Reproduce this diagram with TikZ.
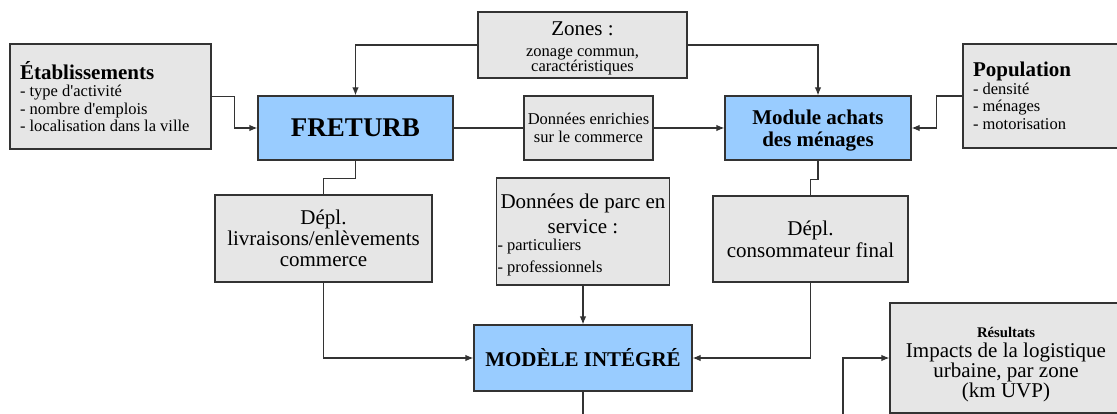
\documentclass[tikz,border=0pt]{standalone}
\usepackage{fontspec}
\setmainfont{Liberation Serif}
\usetikzlibrary{arrows.meta}
\definecolor{boxgray}{RGB}{230,230,230}
\definecolor{boxblue}{RGB}{153,204,255}
\definecolor{linegray}{RGB}{51,51,51}
\newcommand{\smalltxt}{\fontsize{16.5pt}{17.5pt}\selectfont}
\newcommand{\bigtxt}{\fontsize{21pt}{21.5pt}\selectfont}
\tikzset{font={\fontsize{21pt}{21.5pt}\selectfont},
	box/.style={draw=linegray, line width=1.2pt, fill=boxgray, inner sep=3pt, align=flush center},
	bluebox/.style={box, fill=boxblue},
	link/.style={draw=linegray, line width=1.2pt},
	arr/.style={link, -{Latex[length=8pt,width=6.5pt]}}}

\begin{document}
\begin{tikzpicture}[x=1pt,y=-1pt]
		\useasboundingbox (0,0) rectangle (1117,414);
		\clip (0,0) rectangle (1117,414);
		%Inputs
		\node[box, font=\smalltxt, text width=181pt, inner xsep=10pt, minimum height=105pt, align=flush left] (etab) at (110.5,96.5) {{\bigtxt\bfseries Établissements}\\ - type d\textquotesingle activité\\ - nombre d\textquotesingle emplois\\ - localisation dans la ville};
		\node[box, font=\smalltxt, text width=203pt, minimum width=209pt, minimum height=66pt] (zones) at (582.5,45) {\rule{0pt}{20pt}{\bigtxt Zones :}\\[3.5pt] zonage commun,\\[-2.5pt] caractéristiques};
		\node[box, font=\smalltxt, text width=139pt, inner xsep=10pt, minimum height=104pt, align=flush left] (popul) at (1042.5,96) {{\bigtxt\bfseries Population}\\ - densité\\ - ménages\\ - motorisation};
		%Modules
		\node[bluebox, font={\fontsize{27pt}{30pt}\selectfont\bfseries}, minimum width=195pt, minimum height=64pt] (freturb) at (355.5,128) {FRETURB};
		\node[box, font=\smalltxt, text width=123pt, minimum width=129pt, minimum height=64pt] (enrich) at (588.5,128) {Données enrichies\\ sur le commerce};
		\node[bluebox, font={\bigtxt\bfseries}, text width=180pt, minimum width=186pt, minimum height=64pt] (achats) at (818,128) {\rule{0pt}{20.5pt}Module achats\\[0.5pt] des ménages};
		%Trips
		\node[box, font={\fontsize{21pt}{21pt}\selectfont}, text width=211pt, minimum width=217pt, minimum height=87pt] (deplliv) at (323.5,238.5) {Dépl.\\ livraisons/enlèvements\\ commerce};
		\node[box, text width=171pt, inner xsep=1pt, minimum height=107pt, align=flush left] (parc) at (583,231.5) {{\centering\rule{0pt}{21.5pt}\mbox{Données de parc en}\\[3pt] service :\par}\smalltxt - particuliers\\ - professionnels};
		\node[box, text width=189pt, minimum width=195pt, minimum height=86pt] (deplcons) at (810.5,239) {Dépl.\\[0.5pt] consommateur final};
		%Model and results
		\node[bluebox, font={\bigtxt\bfseries}, minimum width=218pt, minimum height=66pt] (modele) at (583,358) {MODÈLE INTÉGRÉ};
		\node[box, font={\fontsize{21pt}{20pt}\selectfont}, text width=226pt, minimum width=232pt, minimum height=110pt] (result) at (1006,358) {{\fontsize{14.7pt}{20pt}\selectfont\bfseries\rule{0pt}{24pt}Résultats}\\ Impacts de la logistique\\ urbaine, par zone\\ (km UVP)};
		%Links
		\draw[arr] (zones.west) -| (freturb.north);
		\draw[arr] (zones.east) -| (achats.north);
		\draw[arr] (etab.east) -- ++(23,0) |- (freturb.west);
		\draw[link] (freturb.east) -- (enrich.west);
		\draw[arr] (enrich.east) -- (achats.west);
		\draw[arr] (popul.west) -- ++(-26,0) |- (achats.east);
		\draw[link] (freturb.south) -- ++(0,18) -| (deplliv.north);
		\draw[link] (achats.south) -- ++(0,19) -| (deplcons.north);
		\draw[arr] (deplliv.south) |- (modele.west);
		\draw[arr] (parc.south) -- (modele.north);
		\draw[arr] (deplcons.south) |- (modele.east);
		\coordinate (below) at (843,440);
		\draw[arr] (modele.south) |- (below) |- (result.west);
\end{tikzpicture}
\end{document}
